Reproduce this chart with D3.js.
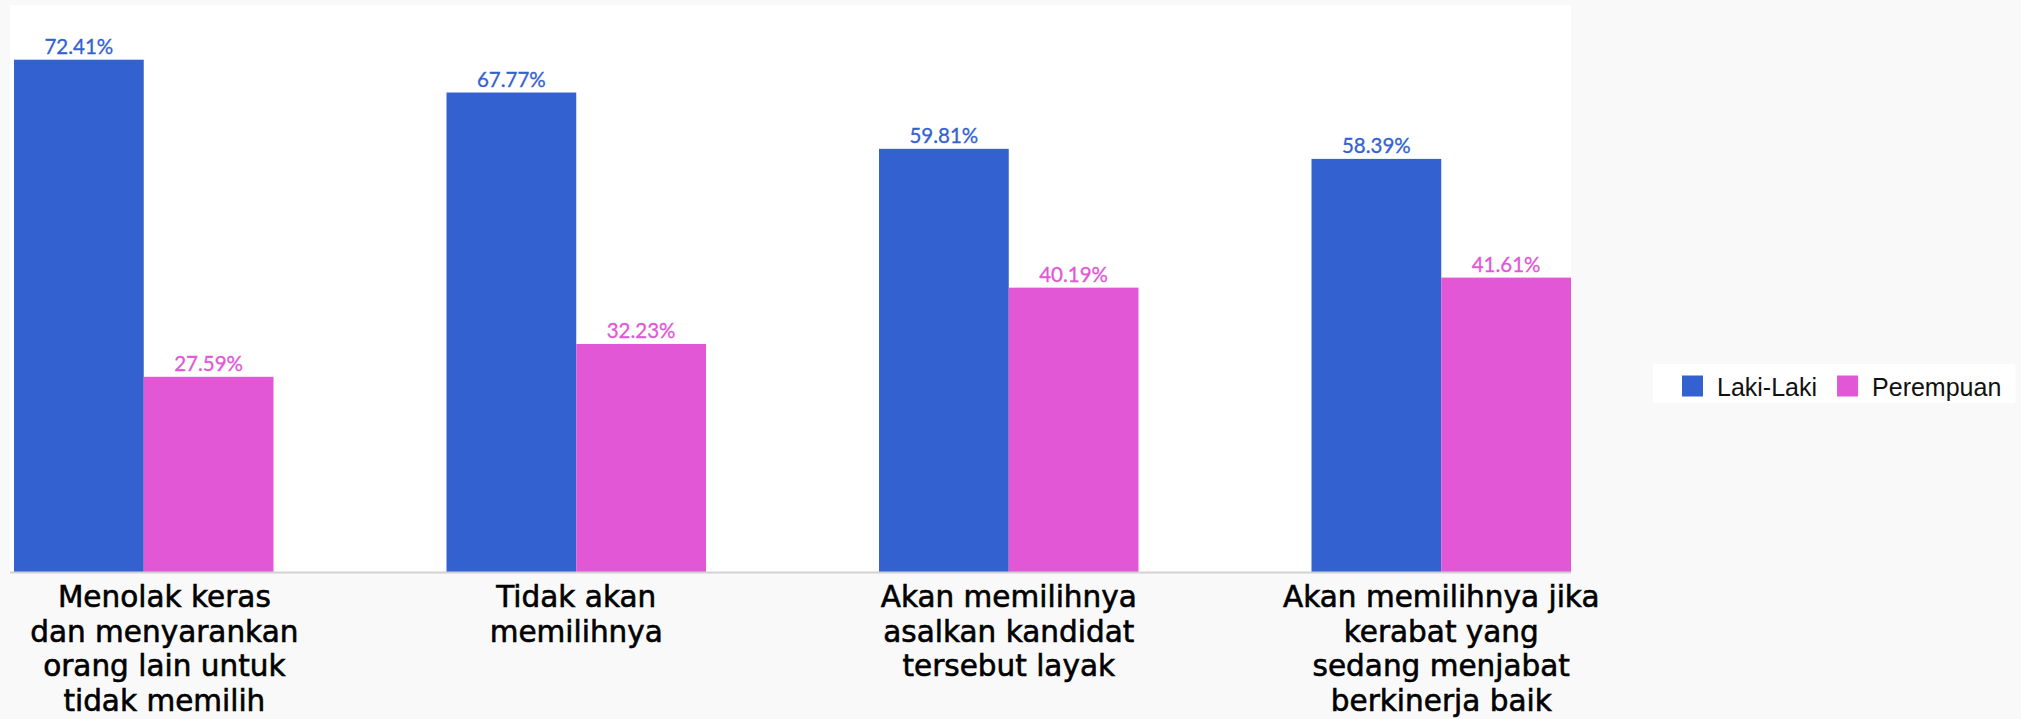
<!DOCTYPE html>
<html>
<head>
<meta charset="utf-8">
<script src="https://cdn.jsdelivr.net/npm/d3@7"></script>
<style>
  body { margin: 0; background: #f9f9f9; }
</style>
</head>
<body>
<script>
var categories = ['c1', 'c2', 'c3', 'c4'];
var tickLabels = [
    ['Menolak keras', 'dan menyarankan', 'orang lain untuk', 'tidak memilih'],
    ['Tidak akan', 'memilihnya'],
    ['Akan memilihnya', 'asalkan kandidat', 'tersebut layak'],
    ['Akan memilihnya jika', 'kerabat yang', 'sedang menjabat', 'berkinerja baik']
];
var seriesNames = ['Laki-Laki', 'Perempuan'];
var lakiLaki = [72.41, 67.77, 59.81, 58.39];
var perempuan = [27.59, 32.23, 40.19, 41.61];
var seriesColors = ['#3461d0', '#e157d6'];

var W = 2021, H = 719;
var plot = {left: 10, right: 1571, top: 5, bottom: 572};

var svg = d3.select('body').append('svg')
    .attr('width', W).attr('height', H);

// white plotting area
svg.append('rect')
    .attr('x', plot.left).attr('y', plot.top)
    .attr('width', plot.right - plot.left).attr('height', plot.bottom - plot.top)
    .attr('fill', '#fff');

var x0 = d3.scaleBand().domain(categories)
    .range([14, plot.right]).paddingInner(0.4).paddingOuter(0);
var x1 = d3.scaleBand().domain(seriesNames)
    .range([0, x0.bandwidth()]);
var y = d3.scaleLinear().domain([0, 80]).range([plot.bottom, plot.top + 1]);
var color = d3.scaleOrdinal().domain(seriesNames).range(seriesColors);

var rows = categories.map(function(c, i) {
    return {cat: c, values: [
        {name: seriesNames[0], value: lakiLaki[i]},
        {name: seriesNames[1], value: perempuan[i]}
    ]};
});

var groups = svg.selectAll('g.group')
    .data(rows)
    .enter().append('g')
    .attr('class', 'group')
    .attr('transform', function(d) { return 'translate(' + x0(d.cat) + ',0)'; });

groups.selectAll('rect')
    .data(function(d) { return d.values; })
    .enter().append('rect')
    .attr('x', function(d) { return x1(d.name); })
    .attr('y', function(d) { return y(d.value); })
    .attr('width', x1.bandwidth())
    .attr('height', function(d) { return y(0) - y(d.value); })
    .attr('fill', function(d) { return color(d.name); });

groups.selectAll('text.val')
    .data(function(d) { return d.values; })
    .enter().append('text')
    .attr('class', 'val')
    .attr('x', function(d) { return x1(d.name) + x1.bandwidth() / 2; })
    .attr('y', function(d) { return y(d.value) - 6; })
    .attr('text-anchor', 'middle')
    .attr('font-family', 'Lato, "Liberation Sans", sans-serif')
    .attr('font-size', '20.5px')
    .attr('fill', function(d) { return color(d.name); })
    .attr('stroke', function(d) { return color(d.name); })
    .attr('stroke-width', 0.3)
    .text(function(d) { return d.value.toFixed(2) + '%'; });

// baseline
svg.append('line')
    .attr('x1', plot.left).attr('x2', plot.right)
    .attr('y1', plot.bottom + 0.5).attr('y2', plot.bottom + 0.5)
    .attr('stroke', '#d2d2d2').attr('stroke-width', 2);

// category labels (label box kept inside the page on the left)
var labelBox = x0.step() * 0.76;
var ticks = svg.append('g');
categories.forEach(function(c, i) {
    var cx = Math.max(x0(c) + x0.bandwidth() / 2, labelBox / 2);
    var t = ticks.append('text')
        .attr('text-anchor', 'middle')
        .attr('font-family', '"DejaVu Sans", sans-serif')
        .attr('font-size', '29.5px')
        .attr('fill', '#000')
        .attr('stroke', '#000')
        .attr('stroke-width', 0.6);
    tickLabels[i].forEach(function(line, j) {
        t.append('tspan')
            .attr('x', cx)
            .attr('y', plot.bottom + 35 + j * 34.5)
            .text(line);
    });
});

// legend
var legend = svg.append('g');
var legendBg = legend.append('rect').attr('fill', '#fff');
var lx = 1682, ly = 375.5, sq = 21;
var startX = lx;
seriesNames.forEach(function(name, i) {
    legend.append('rect')
        .attr('x', lx).attr('y', ly)
        .attr('width', sq).attr('height', sq)
        .attr('fill', color(name));
    var t = legend.append('text')
        .attr('x', lx + sq + 14)
        .attr('y', 396)
        .attr('font-family', '"Liberation Sans", Arial, sans-serif')
        .attr('font-size', '25px')
        .attr('fill', '#111')
        .text(name);
    lx = lx + sq + 14 + t.node().getComputedTextLength() + 20;
});
legendBg.attr('x', startX - 29).attr('y', 364)
    .attr('width', lx - 20 + 14 - (startX - 29)).attr('height', 39);
</script>
</body>
</html>
